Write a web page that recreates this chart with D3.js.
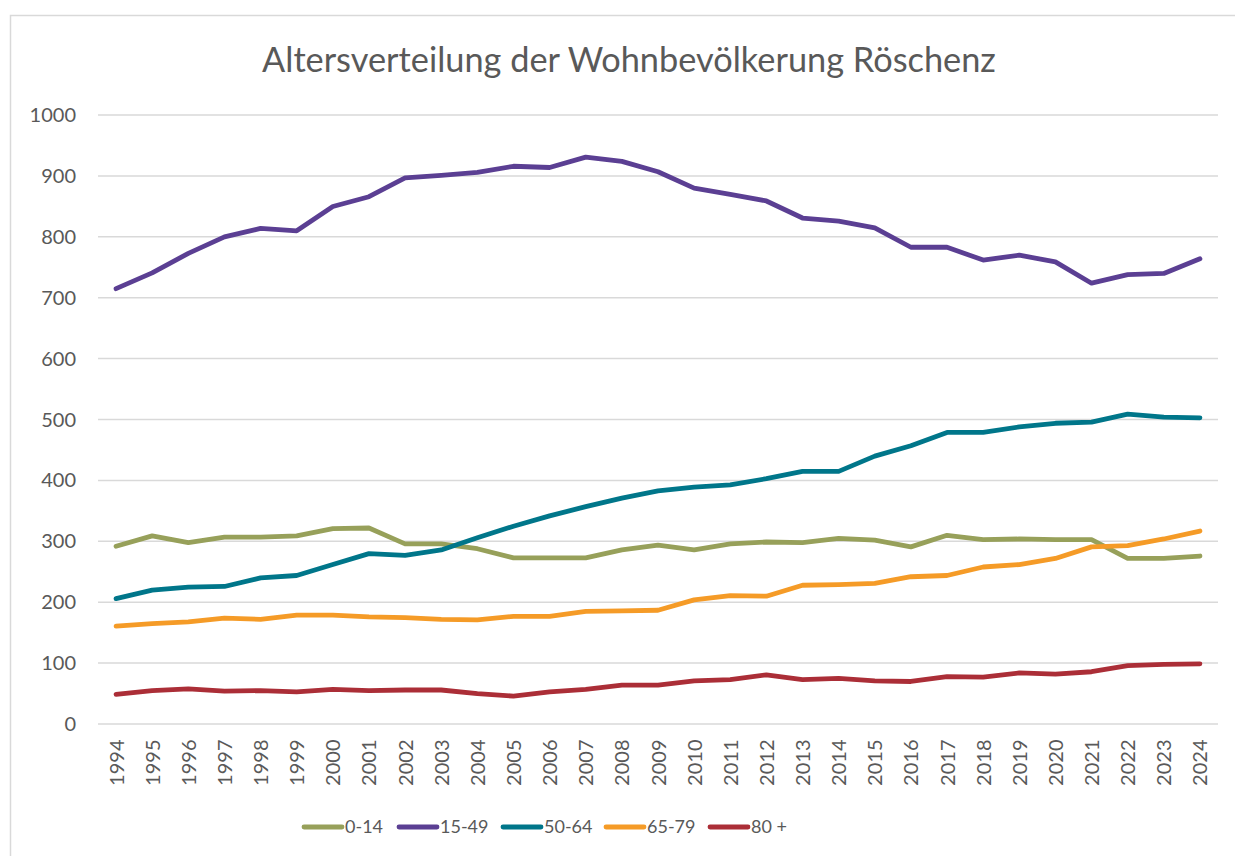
<!DOCTYPE html>
<html>
<head>
<meta charset="utf-8">
<script src="https://cdn.jsdelivr.net/npm/d3@7"></script>
<style>
  body { margin: 0; background: #fff; }
  svg text { font-family: Lato, "Open Sans", sans-serif; fill: #595959; }
</style>
</head>
<body>
<svg id="chart" width="1235" height="856"></svg>
<script>
// Altersverteilung Röschenz, 1994-2024
const years = d3.range(1994, 2025).map(String)
const yTicks = [0, 100, 200, 300, 400, 500, 600, 700, 800, 900, 1000]

const age0to14 = [291, 308, 297, 306, 306, 308, 320, 321, 295, 295, 287, 272, 272, 272, 285, 293,
  285, 295, 298, 297, 304, 301, 290, 309, 302, 303, 302, 302, 271, 271, 275]
const age15to49 = [714, 740, 772, 799, 813, 809, 849, 865, 896, 900, 905, 915, 913, 930, 923, 906,
  879, 869, 858, 830, 825, 814, 782, 782, 761, 769, 758, 723, 737, 739, 763]
const age50to64 = [205, 219, 224, 225, 239, 243, 261, 279, 276, 285, 305, 324, 341, 356, 370, 382,
  388, 392, 402, 414, 414, 439, 456, 478, 478, 487, 493, 495, 508, 503, 502]
const age65to79 = [160, 164, 167, 173, 171, 178, 178, 175, 174, 171, 170, 176, 176, 184, 185, 186,
  203, 210, 209, 227, 228, 230, 241, 243, 257, 261, 271, 290, 292, 303, 316]
const age80plus = [48, 54, 57, 53, 54, 52, 56, 54, 55, 55, 49, 45, 52, 56, 63, 63,
  70, 72, 80, 72, 74, 70, 69, 77, 76, 83, 81, 85, 95, 97, 98]

const seriesNames = ['0-14', '15-49', '50-64', '65-79', '80 +']
const seriesValues = [age0to14, age15to49, age50to64, age65to79, age80plus]
const colors = ['#97A05A', '#5B3F93', '#00768A', '#F59B27', '#AB2E37']

const svg = d3.select('#chart')

// outer frame (cut off at the right and bottom like the original)
svg.append('rect')
  .attr('x', 10.5).attr('y', 15.5)
  .attr('width', 1300).attr('height', 900)
  .attr('fill', 'none').attr('stroke', '#d9d9d9').attr('stroke-width', 1.5)

const x = d3.scalePoint()
  .domain(years)
  .range([98, 1218])
  .padding(0.5)

const y = d3.scaleLinear()
  .domain([0, 1000])
  .range([723.5, 114.5])

// gridlines
svg.append('g')
  .attr('transform', 'translate(98,0)')
  .call(d3.axisLeft(y).tickValues(yTicks).tickSize(-1120).tickFormat(''))
  .call(g => g.select('.domain').remove())
  .call(g => g.selectAll('line').attr('stroke', '#d9d9d9').attr('stroke-width', 1.5))

// y labels
svg.append('g')
  .attr('transform', 'translate(76,0)')
  .call(d3.axisLeft(y).tickValues(yTicks).tickSize(0).tickPadding(0).tickFormat(d3.format('d')))
  .call(g => g.select('.domain').remove())
  .call(g => g.selectAll('text')
    .attr('font-size', 20)
    .attr('dy', '0.35em')
    .style('font-family', 'Lato, sans-serif')
    .attr('fill', '#595959'))

// x labels rotated
svg.append('g')
  .attr('transform', 'translate(0,723.5)')
  .call(d3.axisBottom(x).tickSize(0).tickPadding(0))
  .call(g => g.select('.domain').remove())
  .call(g => g.selectAll('text')
    .attr('font-size', 20)
    .attr('text-anchor', 'end')
    .attr('transform', 'translate(0,16) rotate(-90)')
    .attr('x', 0).attr('y', 0).attr('dy', '0.35em')
    .style('font-family', 'Lato, sans-serif')
    .attr('fill', '#595959'))

// lines
const line = d3.line()
  .x((d, i) => x(years[i]))
  .y(d => y(d))

svg.selectAll('.line')
  .data(seriesValues)
  .join('path')
  .attr('class', 'line')
  .attr('d', line)
  .attr('fill', 'none')
  .attr('stroke', (d, i) => colors[i])
  .attr('stroke-width', 4.8)
  .attr('stroke-linecap', 'round')
  .attr('stroke-linejoin', 'round')

// title
const title = svg.append('text')
  .attr('x', 629).attr('y', 72)
  .attr('text-anchor', 'middle')
  .attr('font-size', 31)
  .text('Altersverteilung der Wohnbevölkerung Röschenz')
const tw = title.node().getComputedTextLength()
title.attr('font-size', 31 * 734 / tw)

// legend
const legendX = [302, 397, 501, 604, 708]
const legend = svg.append('g')
  .selectAll('g')
  .data(seriesNames)
  .join('g')
  .attr('transform', (d, i) => `translate(${legendX[i]},827)`)

legend.append('line')
  .attr('x1', 2).attr('x2', 40)
  .attr('stroke', (d, i) => colors[i])
  .attr('stroke-width', 4.8)
  .attr('stroke-linecap', 'round')

legend.append('text')
  .attr('x', 43).attr('dy', '0.35em')
  .attr('font-size', 18)
  .text(d => d)
</script>
</body>
</html>
